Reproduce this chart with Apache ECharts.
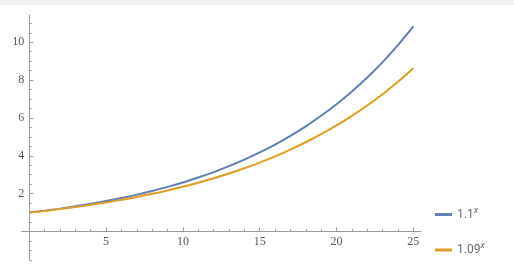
<!DOCTYPE html>
<html>
<head>
<meta charset="utf-8">
<script src="https://cdn.jsdelivr.net/npm/echarts@6/dist/echarts.min.js"></script>
<style>
html,body{margin:0;padding:0;background:#fff;}
#c{width:514px;height:274px;}
</style>
</head>
<body>
<div id="c"></div>
<script>
const xValues = [0,1,2,3,4,5,6,7,8,9,10,11,12,13,14,15,16,17,18,19,20,21,22,23,24,25];
const series1Name = '1.1^x';
const series1 = [1,1.1,1.21,1.331,1.4641,1.6105,1.7716,1.9487,2.1436,2.3579,2.5937,2.8531,3.1384,3.4523,3.7975,4.1772,4.5950,5.0545,5.5599,6.1159,6.7275,7.4002,8.1403,8.9543,9.8497,10.8347];
const series2Name = '1.09^x';
const series2 = [1,1.09,1.1881,1.2950,1.4116,1.5386,1.6771,1.8280,1.9926,2.1719,2.3674,2.5804,2.8127,3.0658,3.3417,3.6425,3.9703,4.3276,4.7171,5.1417,5.6044,6.1088,6.6586,7.2579,7.9111,8.6231];
const xMajorTicks = [5,10,15,20,25];
const xMinorTicks = [1,2,3,4,6,7,8,9,11,12,13,14,16,17,18,19,21,22,23,24];
const yMajorTicks = [2,4,6,8,10];
const yMinorTicks = [-1.5,-1,-0.5,0.5,1,1.5,2.5,3,3.5,4.5,5,5.5,6.5,7,7.5,8.5,9,9.5,10.5,11];

const chart = echarts.init(document.getElementById('c'), null, {renderer:'canvas'});
const axisColor = '#9a9a9a';
const labelStyle = {color:'#555', fontFamily:'Liberation Serif', fontSize:12};
const X = {min:-0.5, max:25.5};
const Y = {min:-1.5, max:11.45};
const G = {left:21.6, right:421, top:14.85, bottom:259.9};
const axisPx = {x0:29.3, y0:231.55};

function xAxisDef(major){
  return {
    type:'value', position:'bottom', min:X.min, max:X.max,
    axisLine:{show:major, onZero:true, lineStyle:{color:axisColor, width:1}},
    axisTick:{show:true, inside:true, length: major?4:2.5, customValues: major?xMajorTicks:xMinorTicks, lineStyle:{color:axisColor}},
    axisLabel:{show:major, customValues: xMajorTicks, margin:4-(G.bottom-axisPx.y0), ...labelStyle},
    splitLine:{show:false}
  };
}
function yAxisDef(major){
  return {
    type:'value', position:'left', min:Y.min, max:Y.max,
    axisLine:{show:major, onZero:true, lineStyle:{color:axisColor, width:1}},
    axisTick:{show:true, inside:true, length: major?4:2.5, customValues: major?yMajorTicks:yMinorTicks, lineStyle:{color:axisColor}},
    axisLabel:{show:major, customValues: yMajorTicks, margin:5-(axisPx.x0-G.left), ...labelStyle},
    splitLine:{show:false}
  };
}
const sup = {
  b:{color:'#6a6a6a', fontFamily:'Roboto', fontSize:12},
  s:{color:'#6a6a6a', fontFamily:'Roboto', fontSize:9, fontStyle:'italic', verticalAlign:'bottom', padding:[0,0,8,0]}
};
chart.setOption({
  animation:false,
  backgroundColor:'#fff',
  graphic:[{type:'rect', shape:{x:0,y:0,width:514,height:5}, style:{fill:'#f3f3f3'}, silent:true}],
  grid:{left:G.left, right:514-G.right, top:G.top, bottom:274-G.bottom, containLabel:false},
  xAxis:[xAxisDef(true), xAxisDef(false)],
  yAxis:[yAxisDef(true), yAxisDef(false)],
  legend:{
    orient:'vertical', left:430, top:201, itemGap:21,
    icon:'rect', itemWidth:17, itemHeight:3,
    data:[series1Name, series2Name],
    formatter:function(n){ const p=n.split('^'); return '{b|'+p[0]+'}{s|'+p[1]+'}'; },
    textStyle:{rich:sup}
  },
  series:[
    {name:series1Name, type:'line', xAxisIndex:0, yAxisIndex:0, smooth:0.4, showSymbol:false,
     lineStyle:{color:'#5E81B5', width:2}, itemStyle:{color:'#5E81B5'},
     data:xValues.map((x,i)=>[x,series1[i]])},
    {name:series2Name, type:'line', xAxisIndex:0, yAxisIndex:0, smooth:0.4, showSymbol:false,
     lineStyle:{color:'#E19C24', width:2}, itemStyle:{color:'#E19C24'},
     data:xValues.map((x,i)=>[x,series2[i]])}
  ]
});
</script>
</body>
</html>
